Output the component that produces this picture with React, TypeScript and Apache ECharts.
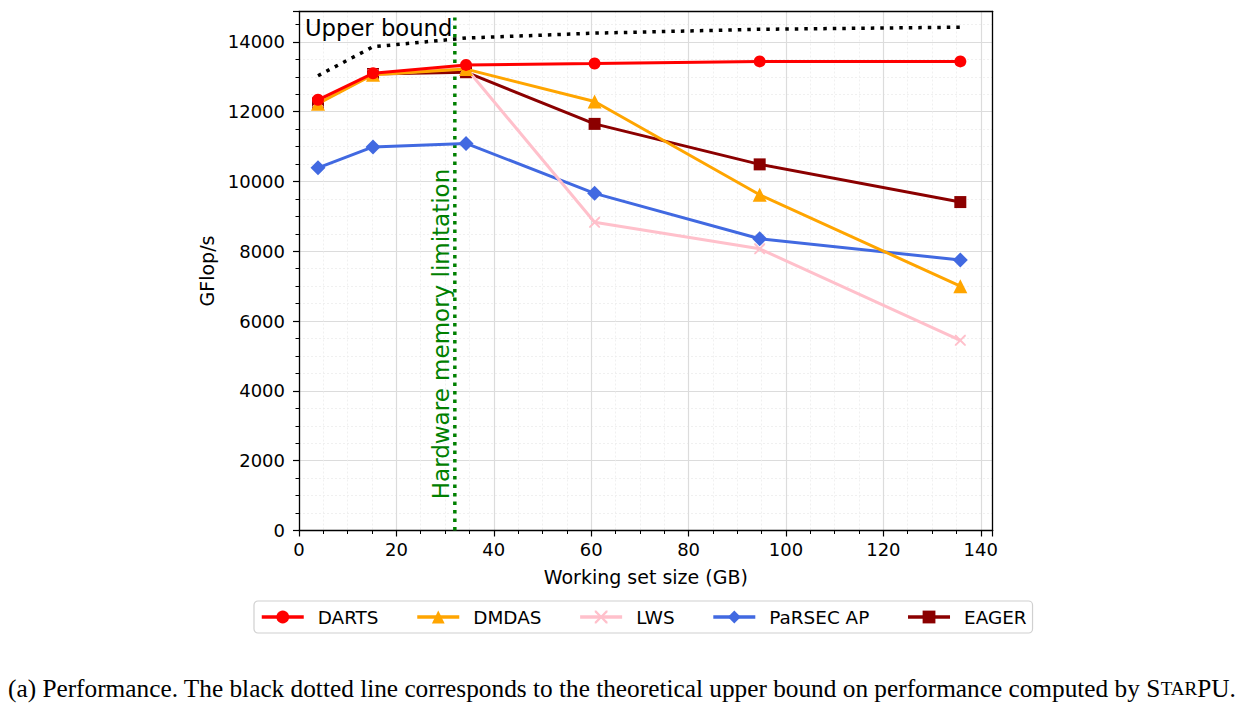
import React, { useEffect, useRef } from "react";
import * as echarts from "echarts";

const xValues = [3.9, 15.2, 34.3, 60.7, 94.6, 135.8];
const darts = [12340, 13100, 13340, 13380, 13440, 13440];
const dmdas = [12230, 13060, 13220, 12290, 9620, 7000];
const lws = [12280, 13060, 13250, 8830, 8070, 5450];
const parsec = [10390, 10990, 11090, 9660, 8360, 7750];
const eager = [12250, 13080, 13130, 11650, 10490, 9410];
const upperBound = [13030, 13860, 14110, 14250, 14360, 14420];
const memoryLimitX = 32;
const memoryLineY = [0, 14700];

const seriesNames = ["DARTS", "DMDAS", "LWS", "PaRSEC AP", "EAGER"];
const colors = ["#ff0000", "#ffa500", "#ffc0cb", "#4169e1", "#8b0000"];

const X_PATH =
  "path://M0,0 L2.5,0 L10,7.5 L17.5,0 L20,0 L20,2.5 L12.5,10 L20,17.5 L20,20 L17.5,20 L10,12.5 L2.5,20 L0,20 L0,17.5 L7.5,10 L0,2.5 Z";

const FONT = "DejaVu Sans";
const X_MAX = 142.45;
const Y_MAX = 14870;

function pairs(ys: number[]) {
  return xValues.map((x, i) => [x, ys[i]]);
}

export default function App() {
  const ref = useRef<HTMLDivElement>(null);
  useEffect(() => {
    if (!ref.current) return;
    const chart = echarts.init(ref.current, null, { renderer: "svg" });
    const dataSets = [darts, dmdas, lws, parsec, eager];
    const symbols = ["circle", "triangle", X_PATH, "diamond", "rect"];
    const symbolSizes = [12, 14, 11, 15, 12];
    const zs = [10, 9, 8, 7, 6];
    const series: any[] = seriesNames.map((name, i) => ({
      name,
      type: "line",
      data: pairs(dataSets[i]),
      symbol: symbols[i],
      symbolSize: symbolSizes[i],
      showSymbol: true,
      z: zs[i],
      itemStyle: { color: colors[i] },
      lineStyle: { color: colors[i], width: 3 },
    }));
    series.push({
      name: "Upper bound",
      type: "line",
      data: pairs(upperBound),
      symbol: "none",
      z: 5,
      lineStyle: { color: "#000", width: 3.5, type: [3.5, 6], cap: "butt" },
    });
    series.push({
      name: "memory",
      type: "line",
      data: memoryLineY.map((y) => [memoryLimitX, y]),
      symbol: "none",
      z: 4,
      lineStyle: { color: "#008000", width: 3.5, type: [3.5, 5], cap: "butt" },
    });

    const frameAxis = {
      type: "value",
      axisLine: { show: true, onZero: false, lineStyle: { color: "#000", width: 1.3 } },
      axisTick: { show: false },
      axisLabel: { show: false },
      splitLine: { show: false },
      minorSplitLine: { show: false },
      z: 20,
    };

    chart.setOption({
      animation: false,
      backgroundColor: "#fff",
      grid: {
        left: 299,
        right: 251.3,
        top: 11.5,
        bottom: 183.5,
        show: false,
        containLabel: false,
      },
      xAxis: [
        {
          type: "value",
          min: 0,
          max: X_MAX,
          interval: 20,
          name: "Working set size (GB)",
          nameLocation: "middle",
          nameGap: 37,
          nameTextStyle: { fontFamily: FONT, fontSize: 19, color: "#000" },
          axisLine: { show: true, onZero: false, lineStyle: { color: "#000", width: 1.3 } },
          axisTick: { show: true, length: 6, lineStyle: { color: "#000", width: 1.2 } },
          minorTick: { show: true, splitNumber: 4, length: 3.5, lineStyle: { color: "#000", width: 1 } },
          axisLabel: { fontFamily: FONT, fontSize: 18, color: "#000", margin: 10, showMaxLabel: false },
          splitLine: { show: true, lineStyle: { color: "#dcdcdc", width: 1.2 } },
          minorSplitLine: { show: true, lineStyle: { color: "#ececec", width: 0.8, type: [2, 2] } },
        },
        { ...frameAxis, position: "top", min: 0, max: X_MAX },
      ],
      yAxis: [
        {
          type: "value",
          min: 0,
          max: Y_MAX,
          interval: 2000,
          name: "GFlop/s",
          nameLocation: "middle",
          nameGap: 83,
          nameTextStyle: { fontFamily: FONT, fontSize: 19, color: "#000" },
          axisLine: { show: true, onZero: false, lineStyle: { color: "#000", width: 1.3 } },
          axisTick: { show: true, length: 6, lineStyle: { color: "#000", width: 1.2 } },
          minorTick: { show: true, splitNumber: 4, length: 3.5, lineStyle: { color: "#000", width: 1 } },
          axisLabel: {
            fontFamily: FONT,
            fontSize: 18,
            color: "#000",
            margin: 14,
            showMaxLabel: false,
            formatter: (v: number) => String(v),
          },
          splitLine: { show: true, lineStyle: { color: "#dcdcdc", width: 1.2 } },
          minorSplitLine: { show: true, lineStyle: { color: "#ececec", width: 0.8, type: [2, 2] } },
        },
        { ...frameAxis, position: "right", min: 0, max: Y_MAX },
      ],
      legend: {
        data: seriesNames,
        left: 254,
        top: 601,
        orient: "horizontal",
        padding: [7, 6, 7, 6],
        itemWidth: 42,
        itemHeight: 16,
        itemGap: 37,
        borderColor: "#d0d0d0",
        borderWidth: 1.2,
        borderRadius: 4,
        selectedMode: false,
        lineStyle: { width: 3.5 },
        textStyle: { fontFamily: FONT, fontSize: 18.4, color: "#000", padding: [0, 0, 0, 9] },
      },
      graphic: [
        {
          type: "text",
          left: 305,
          top: 16,
          z: 20,
          style: { text: "Upper bound", fontFamily: FONT, fontSize: 22.7, fill: "#000" },
        },
        {
          type: "text",
          x: 441,
          y: 334,
          rotation: Math.PI / 2,
          z: 20,
          style: {
            text: "Hardware memory limitation",
            fontFamily: FONT,
            fontSize: 23,
            fill: "#008000",
            align: "center",
            verticalAlign: "middle",
          },
        },
        {
          type: "text",
          x: 8,
          y: 688,
          z: 20,
          style: {
            text:
              "{n|(a) Performance. The black dotted line corresponds to the theoretical upper bound on performance computed by S}{s|TAR}{n|PU.}",
            verticalAlign: "middle",
            rich: {
              n: { fontFamily: "Liberation Serif", fontSize: 25.3, fill: "#000" },
              s: { fontFamily: "Liberation Serif", fontSize: 19, fill: "#000" },
            },
          },
        },
      ],
      series,
    });
    return () => chart.dispose();
  }, []);
  return (
    <div
      ref={ref}
      style={{ position: "fixed", left: 0, top: 0, width: 1244, height: 714, background: "#fff" }}
    />
  );
}
